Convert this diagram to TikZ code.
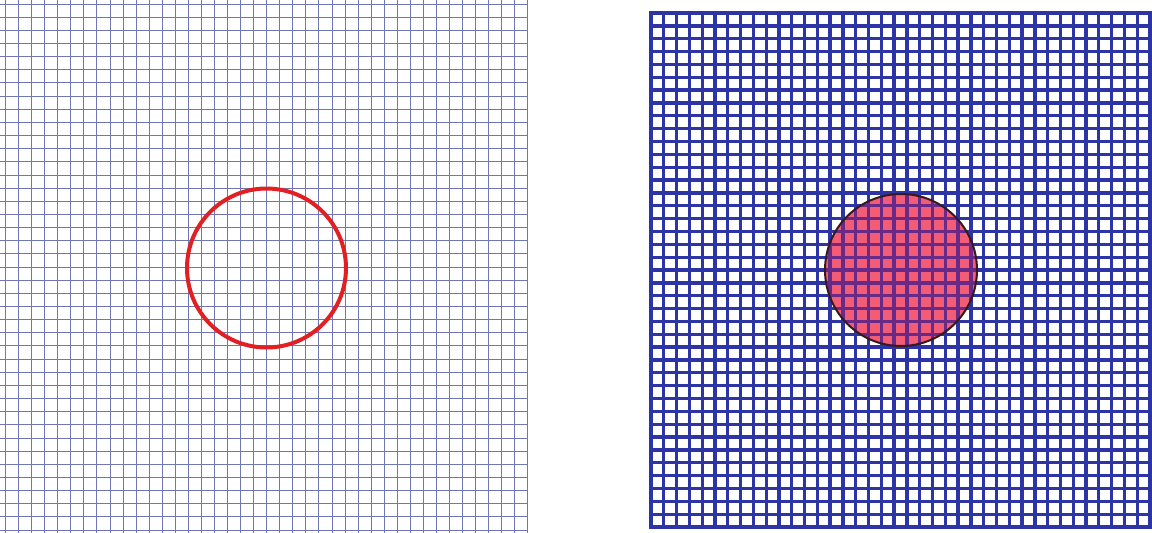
\documentclass[tikz,border=0pt]{standalone}
\definecolor{thingrid}{RGB}{112,118,178}
\definecolor{thickgrid}{RGB}{44,52,166}
\definecolor{innergrid}{RGB}{104,42,134}
\definecolor{ringred}{RGB}{226,32,36}
\definecolor{diskpink}{RGB}{242,92,118}
\definecolor{diskedge}{RGB}{55,25,30}
\tikzset{
  thinline/.style={draw=thingrid,line width=0.9pt},
  thickline/.style={draw=thickgrid,line width=3.3pt},
  innerline/.style={draw=innergrid,line width=3.3pt},
}
\begin{document}
\begin{tikzpicture}[x=1pt,y=-1pt]
\useasboundingbox (0,0) rectangle (1152,533);
\fill[white] (0,0) rectangle (1152,533);
% left thin grid
\foreach \i in {0,...,40} {
  \draw[thinline] (5.5+13.06*\i,0) -- (5.5+13.06*\i,533);
}
\foreach \j in {0,...,40} {
  \draw[thinline] (0,4+13.15*\j) -- (528,4+13.15*\j);
}
% red ring
\draw[draw=ringred,line width=4pt] (266.5,268) circle[radius=79.5];
% right thick grid
\foreach \i in {1,...,38} {
  \draw[thickline] (651+12.795*\i,13) -- (651+12.795*\i,527);
}
\foreach \j in {1,...,39} {
  \draw[thickline] (651,13+12.85*\j) -- (1150,13+12.85*\j);
}
\draw[thickline,line width=3.6pt] (651,13) rectangle (1150,527);
% pink disk
\fill[diskpink] (901,270) circle[radius=76];
\begin{scope}
  \clip (901,270) circle[radius=76];
  \foreach \i in {1,...,38} {
    \draw[innerline] (651+12.795*\i,13) -- (651+12.795*\i,527);
  }
  \foreach \j in {1,...,39} {
    \draw[innerline] (651,13+12.85*\j) -- (1150,13+12.85*\j);
  }
\end{scope}
\draw[draw=diskedge,line width=2pt] (901,270) circle[radius=76];
\end{tikzpicture}
\end{document}
